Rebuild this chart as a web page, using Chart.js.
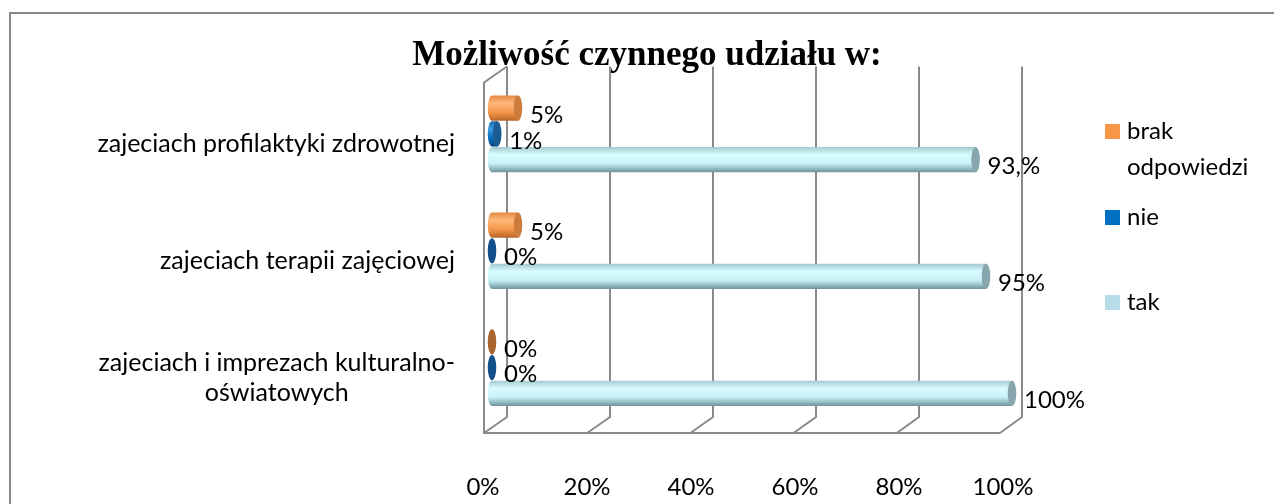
<!DOCTYPE html>
<html>
<head>
<meta charset="utf-8">
<script src="https://cdn.jsdelivr.net/npm/chart.js@4.4.1/dist/chart.umd.min.js"></script>
<style>
  html, body { margin: 0; padding: 0; background: #fff; overflow: hidden; }
  #myChart { display: block; }
</style>
</head>
<body>
<canvas id="myChart" width="1274" height="504"></canvas>
<script>
const categories = ['zajeciach profilaktyki zdrowotnej', 'zajeciach terapii zajęciowej', ['zajeciach i imprezach kulturalno-', 'oświatowych']];
const seriesNames = ['brak odpowiedzi', 'nie', 'tak'];
const brakValues = [5, 5, 0];
const nieValues = [1, 0, 0];
const takValues = [93, 95, 100];
const brakLabels = ['5%', '5%', '0%'];
const nieLabels = ['1%', '0%', '0%'];
const takLabels = ['93,%', '95%', '100%'];
const xTickLabels = ['0%', '20%', '40%', '60%', '80%', '100%'];

const FONT = 'Lato, "Noto Sans", sans-serif';
const TEXT_SIZE = 24;

// colours for the fake 3d cylinders, one entry per series
const looks = [
    { legend: '#f79646', top: '#e58a40', light: '#fdb77c', mid: '#f5994c', dark: '#b9652a', cap: '#cc7c3c', capZero: '#a9652f' },
    { legend: '#0070c0', top: '#1869ad', light: '#3d9be0', mid: '#0a6fc0', dark: '#07457c', cap: '#1b5a92', capZero: '#13508a' },
    { legend: '#b7dee8', top: '#a3cad1', light: '#d8fcff', mid: '#c8f2f7', dark: '#6d959d', cap: '#87a6ad', capZero: '#87a6ad' }
];
const valueLabels = [brakLabels, nieLabels, takLabels];

function drawCylinder(ctx, x0, x1, y, h, look) {
    const r = h / 2;
    const rx = Math.max(3.5, h * 0.17);
    ctx.save();
    if (x1 - x0 > 0.5) {
        const g = ctx.createLinearGradient(0, y - r, 0, y + r);
        g.addColorStop(0, look.top);
        g.addColorStop(0.3, look.light);
        g.addColorStop(0.65, look.mid);
        g.addColorStop(1, look.dark);
        ctx.beginPath();
        ctx.ellipse(x0, y, rx, r, 0, Math.PI / 2, Math.PI * 1.5);
        ctx.lineTo(x1, y - r);
        ctx.lineTo(x1, y + r);
        ctx.closePath();
        ctx.fillStyle = g;
        ctx.fill();
    }
    ctx.beginPath();
    ctx.ellipse(x1, y, rx, r, 0, 0, Math.PI * 2);
    ctx.fillStyle = x1 - x0 > 0.5 ? look.cap : look.capZero;
    ctx.fill();
    ctx.restore();
}

// outer frame, perspective walls and floor
const backdrop = {
    id: 'backdrop',
    beforeDraw(chart) {
        const ctx = chart.ctx;
        ctx.save();
        ctx.strokeStyle = '#888888';
        ctx.lineWidth = 2;
        ctx.strokeRect(10, 13, 1400, 700);
        ctx.restore();
    },
    beforeDatasetsDraw(chart) {
        const ctx = chart.ctx;
        const xs = chart.scales.x;
        const area = chart.chartArea;
        const p0 = xs.getPixelForValue(0);
        const p100 = xs.getPixelForValue(100);
        const backAt = v => (p0 + 15) + ((p100 + 10) - (p0 + 15)) * v / 100;
        const frontAt = v => (p0 - 8) + ((p100 - 12) - (p0 - 8)) * v / 100;
        const wallTop = area.top - 9;
        const backBottom = area.bottom - 9;
        const frontBottom = area.bottom + 7;
        ctx.save();
        ctx.strokeStyle = '#8a8a8a';
        ctx.lineWidth = 2;
        xs.ticks.forEach(t => {
            ctx.beginPath();
            ctx.moveTo(backAt(t.value), wallTop);
            ctx.lineTo(backAt(t.value), backBottom);
            ctx.lineTo(frontAt(t.value), frontBottom);
            ctx.stroke();
        });
        ctx.beginPath();
        ctx.moveTo(frontAt(100), frontBottom);
        ctx.lineTo(frontAt(0), frontBottom);
        ctx.lineTo(frontAt(0), area.top + 7);
        ctx.lineTo(backAt(0), wallTop);
        ctx.stroke();
        ctx.restore();
    }
};

// cylinders, value labels, category labels and legend
const decorations = {
    id: 'decorations',
    afterDatasetsDraw(chart) {
        const ctx = chart.ctx;
        const area = chart.chartArea;
        const ys = chart.scales.y;

        chart.data.datasets.forEach((ds, di) => {
            const meta = chart.getDatasetMeta(di);
            meta.data.forEach(el => {
                const p = el.getProps(['x', 'y', 'base', 'height'], true);
                drawCylinder(ctx, p.base, p.x, p.y, p.height, looks[di]);
            });
        });

        ctx.save();
        ctx.font = TEXT_SIZE + 'px ' + FONT;
        ctx.fillStyle = '#000';
        ctx.textBaseline = 'middle';
        ctx.textAlign = 'left';
        chart.data.datasets.forEach((ds, di) => {
            const meta = chart.getDatasetMeta(di);
            meta.data.forEach((el, i) => {
                const p = el.getProps(['x', 'y'], true);
                ctx.fillText(valueLabels[di][i], p.x + 12, p.y + 7);
            });
        });

        // category labels: block right aligned, lines centred inside it
        ctx.font = '25px ' + FONT;
        ctx.textAlign = 'center';
        const lineH = 30;
        categories.forEach((cat, i) => {
            const lines = Array.isArray(cat) ? cat : [cat];
            const blockW = Math.max(...lines.map(l => ctx.measureText(l).width));
            const cx = area.left - 37 - blockW / 2;
            const cy = ys.getPixelForValue(i) + 10;
            lines.forEach((l, k) => {
                ctx.fillText(l, cx, cy - (lines.length - 1) * lineH / 2 + k * lineH);
            });
        });

        // legend
        ctx.font = TEXT_SIZE + 'px ' + FONT;
        ctx.textAlign = 'left';
        const boxX = area.right + 93;
        const textX = boxX + 22;
        const maxW = 1266 - textX;
        const itemY = [area.top + 56, area.top + 142, area.top + 227];
        chart.data.datasets.forEach((ds, di) => {
            const words = ds.label.split(' ');
            const lines = [];
            let cur = '';
            words.forEach(w => {
                const test = cur ? cur + ' ' + w : w;
                if (ctx.measureText(test).width > maxW && cur) {
                    lines.push(cur);
                    cur = w;
                } else {
                    cur = test;
                }
            });
            lines.push(cur);
            const y = itemY[di];
            ctx.fillStyle = looks[di].legend;
            ctx.fillRect(boxX, y - 7.5, 15, 15);
            ctx.fillStyle = '#000';
            lines.forEach((l, k) => ctx.fillText(l, textX, y + k * 36));
        });
        ctx.restore();
    }
};

const ctx = document.getElementById('myChart').getContext('2d');
const seriesValues = [brakValues, nieValues, takValues];
const myChart = new Chart(ctx, {
    type: 'bar',
    data: {
        labels: categories,
        datasets: seriesNames.map((name, i) => ({
            label: name,
            data: seriesValues[i],
            backgroundColor: 'rgba(0,0,0,0)',
            borderWidth: 0,
            categoryPercentage: 0.66,
            barPercentage: 0.98
        }))
    },
    options: {
        indexAxis: 'y',
        responsive: false,
        animation: false,
        layout: {
            padding: { left: 282, right: 262, top: 0, bottom: 2 }
        },
        scales: {
            x: {
                min: 0,
                max: 100,
                ticks: {
                    stepSize: 20,
                    padding: 47,
                    labelOffset: -9,
                    maxRotation: 0,
                    color: '#000',
                    font: { family: FONT, size: TEXT_SIZE },
                    callback: (value, index) => xTickLabels[index]
                },
                grid: { display: false, drawTicks: false },
                border: { display: false },
                afterFit(scale) { scale.height = 76; }
            },
            y: {
                ticks: { display: false },
                grid: { display: false, drawTicks: false },
                border: { display: false },
                afterFit(scale) { scale.width = 210; }
            }
        },
        plugins: {
            legend: { display: false },
            tooltip: { enabled: false },
            title: {
                display: true,
                text: 'Możliwość czynnego udziału w:',
                color: '#000',
                font: { family: '"Liberation Serif", "Times New Roman", serif', size: 35, weight: 'bold', lineHeight: 1.1 },
                padding: { top: 37, bottom: 0 }
            }
        }
    },
    plugins: [backdrop, decorations]
});
</script>
</body>
</html>
